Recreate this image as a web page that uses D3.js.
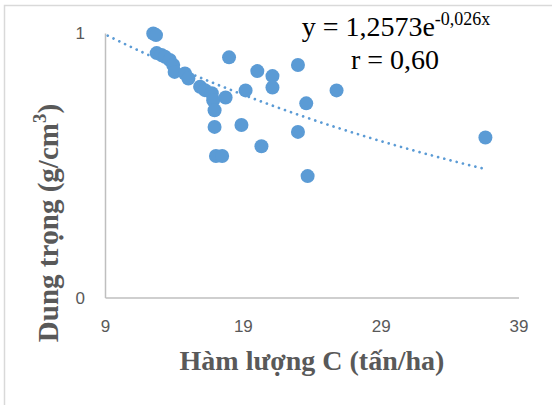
<!DOCTYPE html>
<html>
<head>
<meta charset="utf-8">
<script src="https://cdn.jsdelivr.net/npm/d3@7"></script>
<style>
    body { margin: 0; background: #fff; }
    svg { display: block; }
</style>
</head>
<body>
<svg id="scatter" width="552" height="405"></svg>
<script>

// Hàm lượng C (tấn/ha)
const carbon = [12.5, 12.7, 12.75, 13.1, 13.35, 13.7, 13.95, 14.05, 14.8, 15.05, 15.9, 16.25,
    16.75, 16.85, 17.75, 16.95, 18.0, 16.95, 18.9, 17.05, 17.5, 19.2, 20.05, 21.15,
    21.15, 20.35, 23.0, 23.6, 23.0, 23.7, 25.8, 36.6]

// Dung trọng (g/cm3)
const bulkDensity = [0.998, 0.992, 0.924, 0.917, 0.91, 0.898, 0.879, 0.853, 0.847, 0.828, 0.797, 0.784,
    0.772, 0.746, 0.756, 0.708, 0.908, 0.645, 0.652, 0.535, 0.535, 0.783, 0.856, 0.837,
    0.794, 0.572, 0.879, 0.734, 0.626, 0.459, 0.783, 0.605]

const xTicks = [9, 19, 29, 39]
const yTicks = [0, 1]

// y = a * e^(b x)
const trendCoef = [1.2573, -0.026]
const trendRange = [9.2, 36.6]


function drawChart() {

    const width = 552;
    const height = 405;

    const margin = { top: 33, right: 33, bottom: 108, left: 105 };
    const innerWidth = width - margin.left - margin.right;
    const innerHeight = height - margin.top - margin.bottom;

    const svg = d3.select('#scatter')

    // chart border, runs off the right and bottom edges
    svg.append('rect')
        .attr('x', 4.5)
        .attr('y', 5.5)
        .attr('width', width)
        .attr('height', height)
        .attr('fill', 'none')
        .attr('stroke', '#d9d9d9')
        .attr('stroke-width', 1.5)

    const xScale = d3.scaleLinear()
        .domain([9, 39])
        .range([0, innerWidth - 0.5]);

    const yScale = d3.scaleLinear()
        .domain([0, 1])
        .range([innerHeight + 0.5, 0]);

    const g = svg.append('g')
        .attr('transform', 'translate(' + margin.left + ',' + margin.top + ')');

    const xAxis = d3.axisBottom(xScale).tickValues(xTicks).tickSize(0).tickPadding(22);
    const yAxis = d3.axisLeft(yScale).tickValues(yTicks).tickFormat(d3.format('d')).tickSize(0).tickPadding(20);

    const xG = g.append('g').call(xAxis)
        .attr('transform', 'translate(0,' + (innerHeight + 0.5) + ')');
    const yG = g.append('g').call(yAxis);

    [xG, yG].forEach(a => {
        a.select('.domain').attr('stroke', '#bfbfbf').attr('stroke-width', 1.5)
        a.selectAll('text')
            .attr('fill', '#595959')
            .style('font-family', '"Liberation Sans", Arial, sans-serif')
            .style('font-size', '17px')
    })
    yG.selectAll('text').attr('dy', '0.35em')

    // trend line
    const trendX = d3.range(trendRange[0], trendRange[1] + 0.01, 0.2)
    const line = d3.line()
        .x(d => xScale(d))
        .y(d => yScale(trendCoef[0] * Math.exp(trendCoef[1] * d)))

    g.append('path')
        .datum(trendX)
        .attr('d', line)
        .attr('fill', 'none')
        .attr('stroke', '#5b9bd5')
        .attr('stroke-width', 2.7)
        .attr('stroke-linecap', 'round')
        .attr('stroke-dasharray', '0.01 6.4')

    g.selectAll('circle')
        .data(carbon)
        .enter()
        .append('circle')
        .attr('cx', d => xScale(d))
        .attr('cy', (d, i) => yScale(bulkDensity[i]))
        .attr('r', 7)
        .attr('fill', '#5b9bd5')

    // equation
    const eq = svg.append('text')
        .attr('x', 396)
        .attr('y', 36)
        .attr('text-anchor', 'middle')
        .attr('fill', '#000')
        .style('font-family', '"Liberation Serif", "Times New Roman", serif')
    eq.append('tspan').style('font-size', '28px').text('y = 1,2573e')
    eq.append('tspan').style('font-size', '18px').attr('dy', -11).text('-0,026x')

    svg.append('text')
        .attr('x', 395)
        .attr('y', 69)
        .attr('text-anchor', 'middle')
        .style('font-family', '"Liberation Serif", "Times New Roman", serif')
        .style('font-size', '28px')
        .text('r = 0,60')

    // axis titles
    svg.append('text')
        .attr('x', 312)
        .attr('y', 370)
        .attr('text-anchor', 'middle')
        .attr('fill', '#595959')
        .style('font-family', '"Liberation Serif", "Times New Roman", serif')
        .style('font-weight', 'bold')
        .style('font-size', '28px')
        .text('Hàm lượng C (tấn/ha)')

    const yTitle = svg.append('text')
        .attr('transform', 'translate(58,223) rotate(-90)')
        .attr('text-anchor', 'middle')
        .attr('fill', '#595959')
        .style('font-family', '"Liberation Serif", "Times New Roman", serif')
        .style('font-weight', 'bold')
        .style('font-size', '29px')
    yTitle.append('tspan').text('Dung trọng (g/cm')
    yTitle.append('tspan').style('font-size', '19px').attr('dy', -12).text('3')
    yTitle.append('tspan').attr('dy', 12).text(')')
}

drawChart()

</script>
</body>
</html>
